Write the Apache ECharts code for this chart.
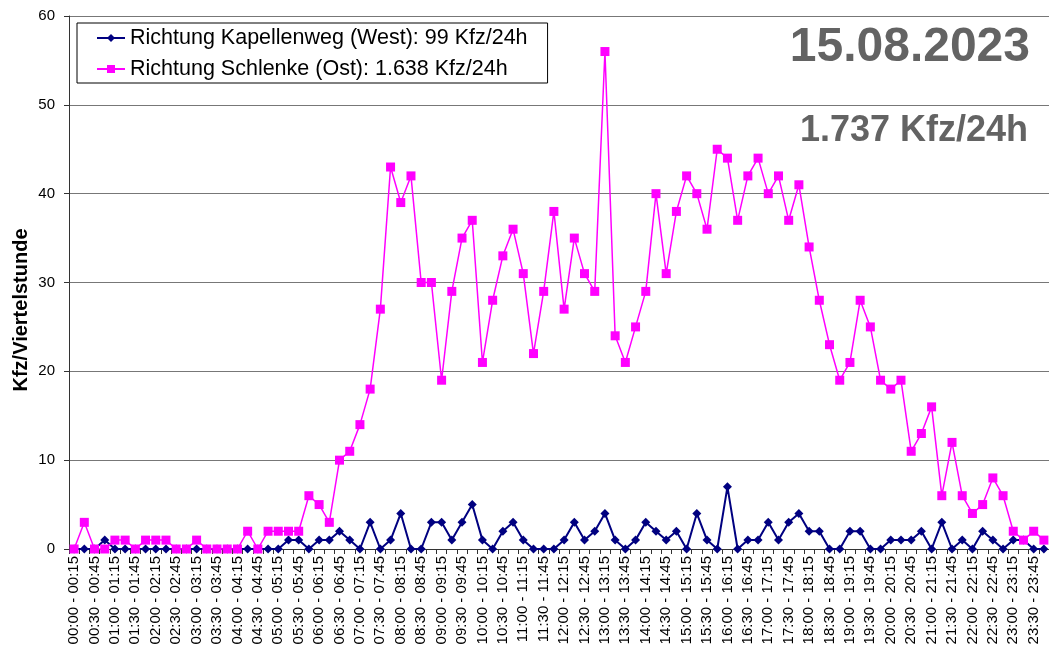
<!DOCTYPE html>
<html>
<head>
<meta charset="utf-8">
<script src="https://cdn.jsdelivr.net/npm/echarts@6/dist/echarts.min.js"></script>
<style>
html,body{margin:0;padding:0;background:#fff;}
#chart{width:1049px;height:648px;}
</style>
</head>
<body>
<div id="chart"></div>
<script>
const categories = [
"00:00 - 00:15","00:15 - 00:30","00:30 - 00:45","00:45 - 01:00",
"01:00 - 01:15","01:15 - 01:30","01:30 - 01:45","01:45 - 02:00",
"02:00 - 02:15","02:15 - 02:30","02:30 - 02:45","02:45 - 03:00",
"03:00 - 03:15","03:15 - 03:30","03:30 - 03:45","03:45 - 04:00",
"04:00 - 04:15","04:15 - 04:30","04:30 - 04:45","04:45 - 05:00",
"05:00 - 05:15","05:15 - 05:30","05:30 - 05:45","05:45 - 06:00",
"06:00 - 06:15","06:15 - 06:30","06:30 - 06:45","06:45 - 07:00",
"07:00 - 07:15","07:15 - 07:30","07:30 - 07:45","07:45 - 08:00",
"08:00 - 08:15","08:15 - 08:30","08:30 - 08:45","08:45 - 09:00",
"09:00 - 09:15","09:15 - 09:30","09:30 - 09:45","09:45 - 10:00",
"10:00 - 10:15","10:15 - 10:30","10:30 - 10:45","10:45 - 11:00",
"11:00 - 11:15","11:15 - 11:30","11:30 - 11:45","11:45 - 12:00",
"12:00 - 12:15","12:15 - 12:30","12:30 - 12:45","12:45 - 13:00",
"13:00 - 13:15","13:15 - 13:30","13:30 - 13:45","13:45 - 14:00",
"14:00 - 14:15","14:15 - 14:30","14:30 - 14:45","14:45 - 15:00",
"15:00 - 15:15","15:15 - 15:30","15:30 - 15:45","15:45 - 16:00",
"16:00 - 16:15","16:15 - 16:30","16:30 - 16:45","16:45 - 17:00",
"17:00 - 17:15","17:15 - 17:30","17:30 - 17:45","17:45 - 18:00",
"18:00 - 18:15","18:15 - 18:30","18:30 - 18:45","18:45 - 19:00",
"19:00 - 19:15","19:15 - 19:30","19:30 - 19:45","19:45 - 20:00",
"20:00 - 20:15","20:15 - 20:30","20:30 - 20:45","20:45 - 21:00",
"21:00 - 21:15","21:15 - 21:30","21:30 - 21:45","21:45 - 22:00",
"22:00 - 22:15","22:15 - 22:30","22:30 - 22:45","22:45 - 23:00",
"23:00 - 23:15","23:15 - 23:30","23:30 - 23:45","23:45 - 24:00"
];

const west = [
0,0,0,1,0,0,0,0,0,0,0,0,0,0,0,0,0,0,0,0,0,1,
1,0,1,1,2,1,0,3,0,1,4,0,0,3,3,1,3,5,1,0,2,3,1,0,0,0,
1,3,1,2,4,1,0,1,3,2,1,2,0,4,1,0,7,0,1,1,3,1,3,4,
2,2,0,0,2,2,0,0,1,1,1,2,0,3,0,1,0,2,1,0,1,1,0,0
];

const ost = [
0,3,0,0,1,1,0,1,1,1,0,0,1,0,0,0,0,2,0,2,2,2,
2,6,5,3,10,11,14,18,27,43,39,42,30,30,19,29,35,37,21,28,33,36,31,
22,29,38,27,35,31,29,56,24,21,25,29,40,31,38,42,40,36,45,44,37,42,44,40,42,37,41,
34,28,23,19,21,28,25,19,18,19,11,13,16,6,12,6,4,5,8,6,2,1,2,1
];

const seriesNames = [
"Richtung Kapellenweg (West): 99 Kfz/24h",
"Richtung Schlenke (Ost): 1.638 Kfz/24h"
];
const dateText = "15.08.2023";
const totalText = "1.737 Kfz/24h";
const yAxisTitle = "Kfz/Viertelstunde";

const FONT = "'Liberation Sans', Arial, sans-serif";
const chart = echarts.init(document.getElementById('chart'), null, {renderer: 'canvas'});

chart.setOption({
  animation: false,
  backgroundColor: '#ffffff',
  grid: {left: 69, top: 16, width: 984, height: 533, containLabel: false},
  legend: {
    orient: 'vertical',
    left: 77, top: 23,
    padding: [4, 20, 3, 19],
    itemGap: 9,
    itemWidth: 28,
    itemHeight: 10,
    borderColor: '#000', borderWidth: 1,
    backgroundColor: '#fff',
    textStyle: {fontFamily: FONT, fontSize: 21.5, color: '#000'},
    data: seriesNames
  },
  graphic: [
    {type: 'text', x: 1030, y: 48,
     style: {text: dateText, font: 'bold 48px ' + FONT, fill: '#636363', textAlign: 'right', textVerticalAlign: 'middle'}},
    {type: 'text', x: 1028, y: 131,
     style: {text: totalText, font: 'bold 36px ' + FONT, fill: '#636363', textAlign: 'right', textVerticalAlign: 'middle'}},
    {type: 'text', x: 21, y: 310, rotation: Math.PI / 2,
     style: {text: yAxisTitle, font: 'bold 20px ' + FONT, fill: '#000', textAlign: 'center', textVerticalAlign: 'middle'}}
  ],
  xAxis: {
    type: 'category',
    data: categories,
    boundaryGap: true,
    axisLine: {lineStyle: {color: '#333', width: 1}},
    axisTick: {show: true, interval: 0, length: 5, lineStyle: {color: '#333'}},
    axisLabel: {interval: 1, rotate: 90, margin: 7, fontFamily: FONT, fontSize: 15, color: '#000'},
    splitLine: {show: false}
  },
  yAxis: {
    type: 'value',
    min: 0, max: 60, interval: 10,
    axisLine: {show: true, lineStyle: {color: '#333', width: 1}},
    axisTick: {show: true, length: 5, lineStyle: {color: '#333'}},
    axisLabel: {margin: 14, fontFamily: FONT, fontSize: 15, color: '#000'},
    splitLine: {show: true, lineStyle: {color: '#777', width: 1}}
  },
  series: [
    {
      name: seriesNames[0], type: 'line', data: west,
      symbol: 'diamond', symbolSize: 9, showAllSymbol: true,
      lineStyle: {color: '#000080', width: 2},
      itemStyle: {color: '#000080'},
      z: 2
    },
    {
      name: seriesNames[1], type: 'line', data: ost,
      symbol: 'rect', symbolSize: 9, showAllSymbol: true,
      lineStyle: {color: '#FF00FF', width: 1.5},
      itemStyle: {color: '#FF00FF'},
      z: 3
    }
  ]
});
</script>
</body>
</html>
